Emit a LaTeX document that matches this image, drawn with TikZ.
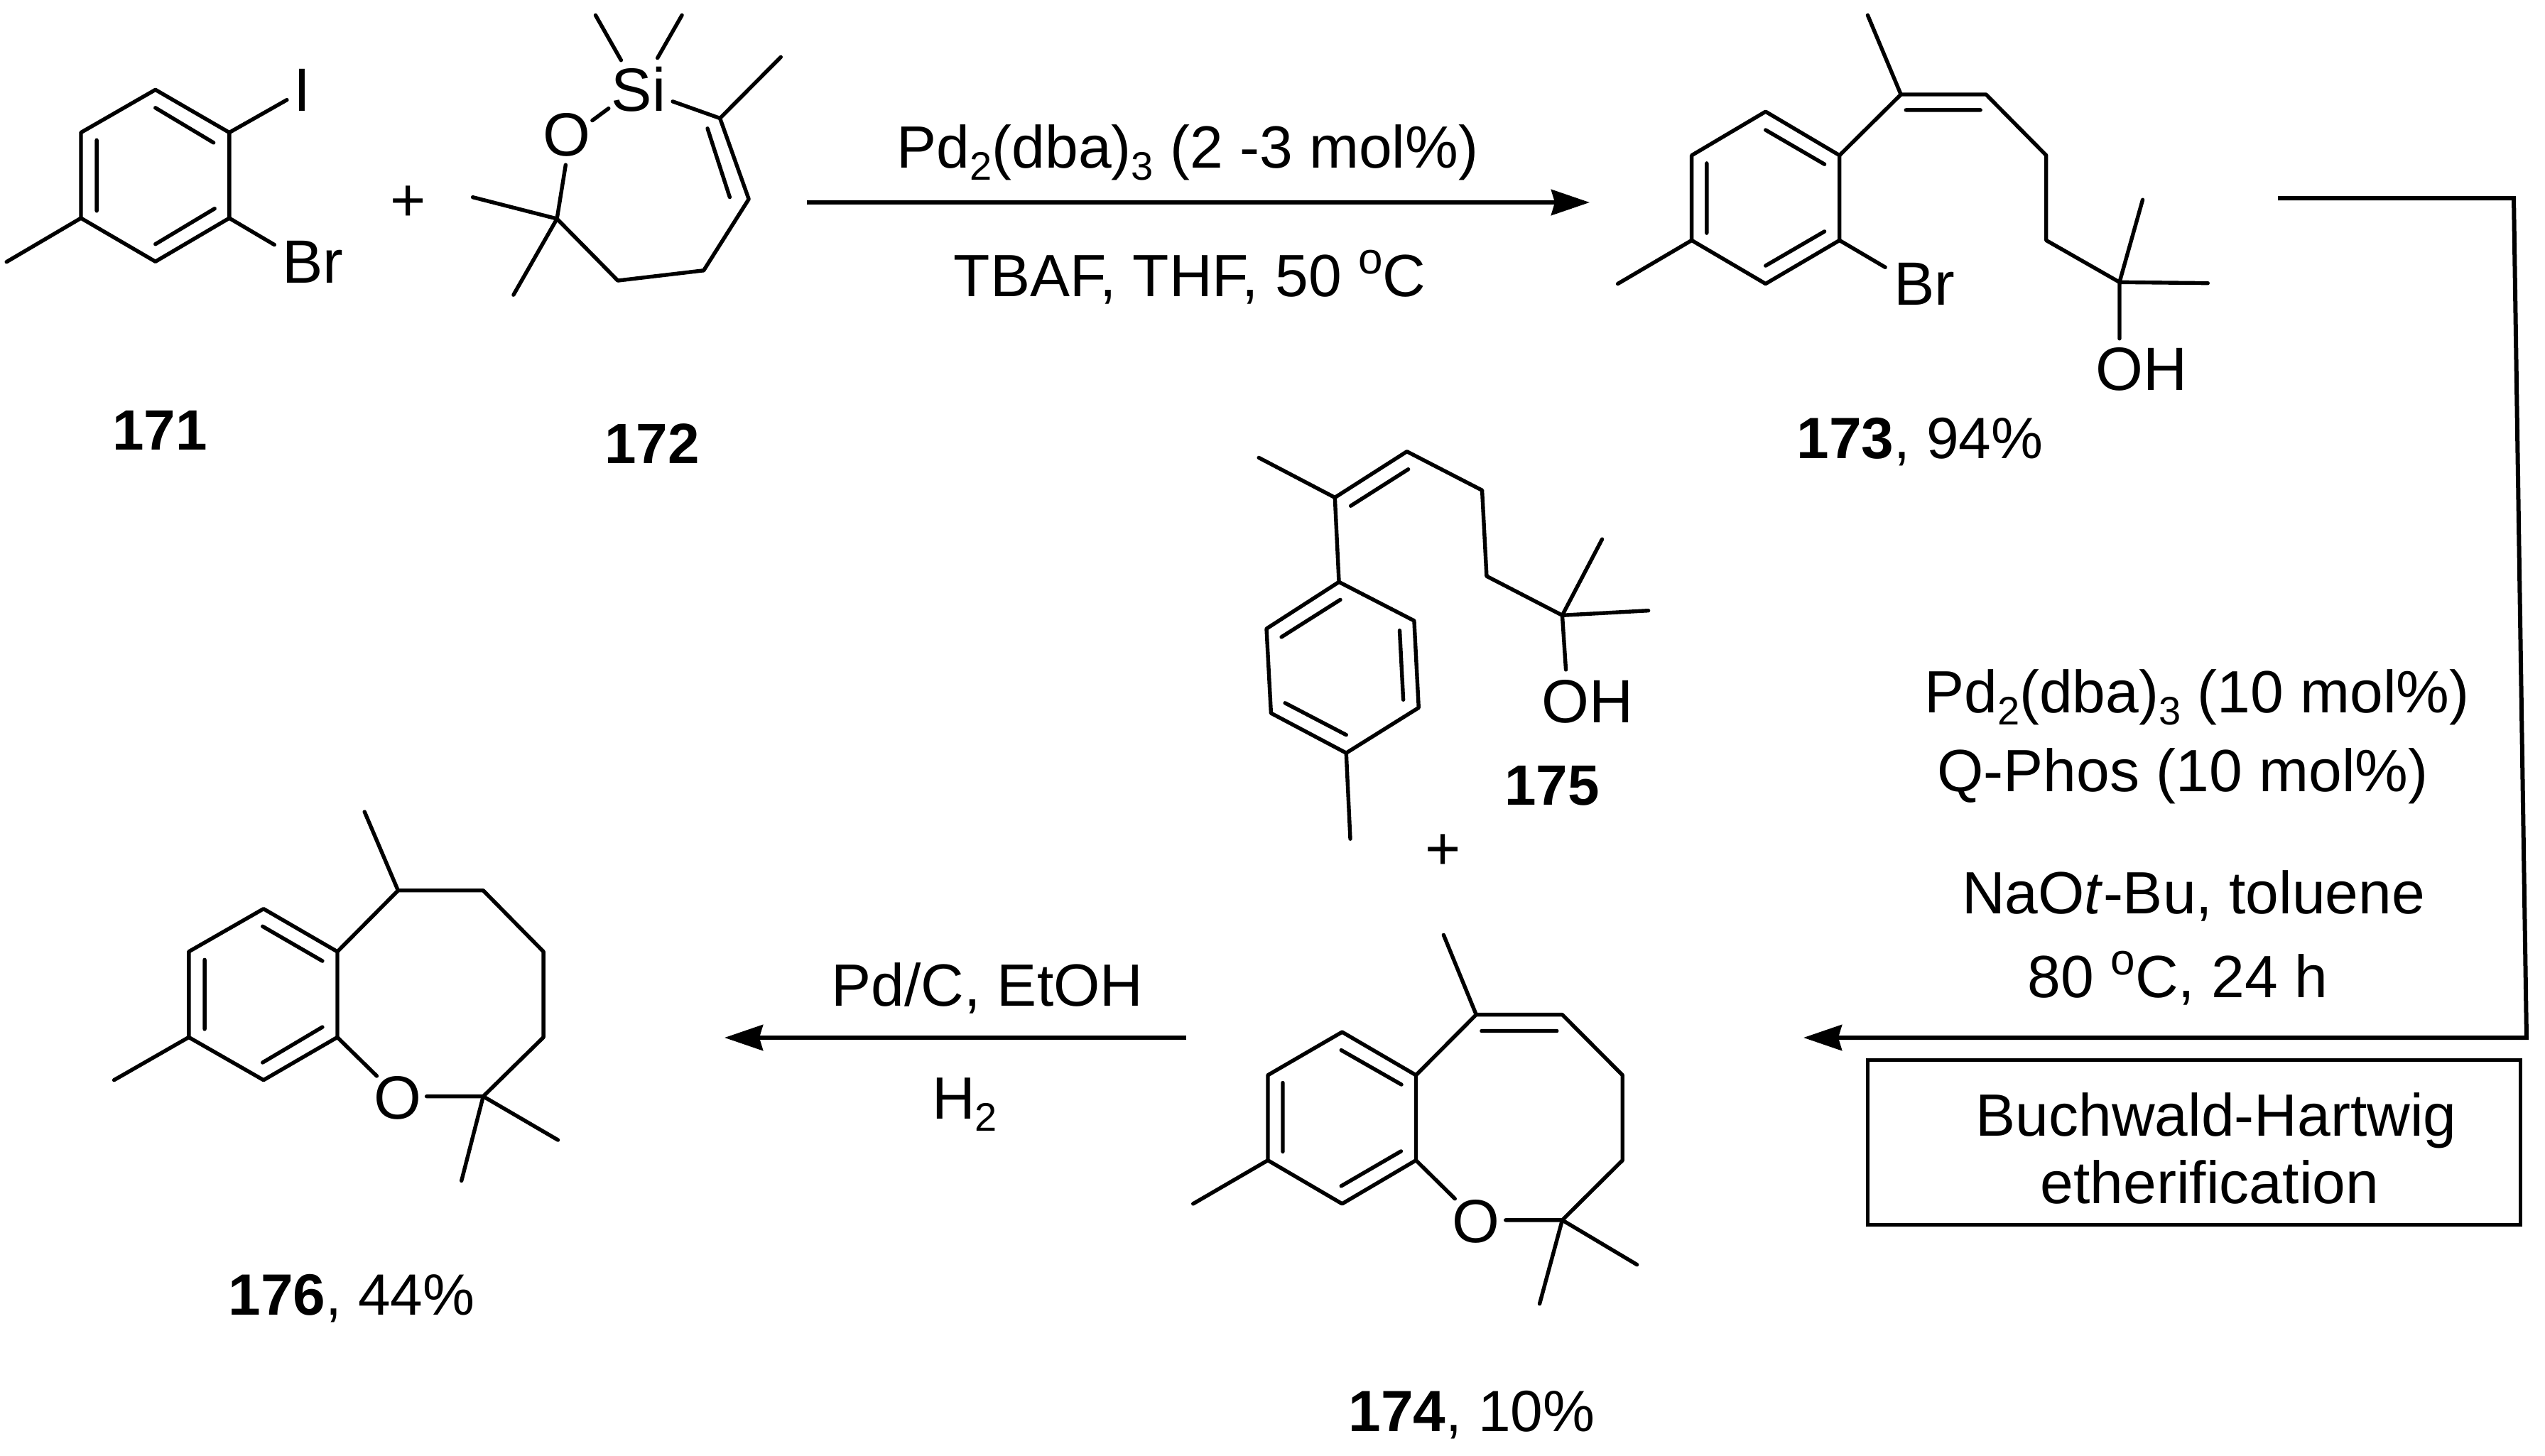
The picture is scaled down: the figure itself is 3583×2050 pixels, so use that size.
\documentclass[tikz,border=0pt]{standalone}
\usepackage{fontspec}
\setmainfont{Liberation Sans}
\usetikzlibrary{arrows.meta}
\newcommand\subsc[1]{\raisebox{-8.5pt}{\fontsize{28}{28}\selectfont #1}}
\newcommand\supsc[1]{\raisebox{16pt}{\fontsize{31}{31}\selectfont #1}}
\tikzset{
  bond/.style={draw=black,line width=2.7pt,line cap=round,line join=round},
  rxn/.style={draw=black,line width=3pt,line join=miter},
  head/.style={-{Stealth[length=27pt,width=18pt,inset=2.5pt]}},
  atom/.style={inner sep=0pt,anchor=base,font=\fontsize{43}{43}\selectfont},
  txt/.style={inner sep=0pt,anchor=base,font=\fontsize{42}{42}\selectfont},
  num/.style={inner sep=0pt,anchor=base,font=\fontsize{40}{40}\selectfont\bfseries},
  yield/.style={inner sep=0pt,anchor=base,font=\fontsize{41}{41}\selectfont},
}
\begin{document}
\begin{tikzpicture}[x=0.5pt,y=-0.5pt]
\useasboundingbox (0,0) rectangle (3583,2050);
% 171 and 172
\begin{scope}[shift={(0,0)},xscale=1/1.307,yscale=1/2.24]
\draw[bond] (286,283)--(422,418)--(422,688)--(286,825)--(149,688)--(149,418)--cycle;
\draw[bond] (286,340)--(393,450) (178,442)--(178,665) (395,658)--(286,770);
\draw[bond] (149,688)--(12,826) (422,418)--(528,315) (422,688)--(505,772);
\draw[bond] (1090,380)--(1120,342) (1143,190)--(1096,48) (1210,183)--(1255,48);
\draw[bond] (1238,320)--(1325,373)--(1437,180) (1325,373)--(1378,628)--(1295,853)--(1137,885)--(1025,690)--(1041,520);
\draw[bond] (1302,405)--(1343,622) (870,622)--(1025,690)--(945,930);
\end{scope}
% 173
\begin{scope}[shift={(2200,0)},xscale=1/1.134,yscale=1/2.24]
\draw[bond] (324,352)--(442,490)--(442,758)--(324,895)--(206,758)--(206,490)--cycle;
\draw[bond] (324,410)--(418,518) (230,515)--(230,735) (418,730)--(324,838);
\draw[bond] (206,758)--(88,895) (442,758)--(515,843);
\draw[bond] (442,490)--(540,298)--(676,298)--(772,490)--(772,758)--(889,890);
\draw[bond] (540,298)--(487,48) (548,347)--(667,347);
\draw[bond] (926,630)--(889,890)--(1030,893) (889,890)--(889,1068);
\end{scope}
% 175
\begin{scope}[shift={(1600,550)},xscale=1/1.568,yscale=1/1.96]
\draw[bond] (270,185)--(438,295)--(597,168)--(763,275)--(773,512)--(940,620);
\draw[bond] (473,318)--(600,217) (1028,410)--(940,620)--(1130,607) (940,620)--(948,770);
\draw[bond] (438,295)--(447,528);
\draw[bond] (447,528)--(613,635)--(623,875)--(463,1000)--(297,890)--(287,657)--cycle;
\draw[bond] (450,577)--(320,680) (581,662)--(589,853) (463,950)--(328,862) (463,1000)--(472,1237);
\end{scope}
% 176
\begin{scope}[shift={(100,1050)},xscale=1/1.568,yscale=1/1.742]
\draw[bond] (425,400)--(588,505)--(588,715)--(425,820)--(260,715)--(260,505)--cycle;
\draw[bond] (423,443)--(555,528) (295,525)--(295,695) (555,690)--(423,777) (260,715)--(95,820);
\draw[bond] (588,505)--(722,355)--(910,355)--(1043,505)--(1043,715)--(910,860)--(785,860);
\draw[bond] (722,355)--(648,162) (1075,967)--(910,860)--(862,1067) (588,715)--(675,810);
\end{scope}
% 174
\begin{scope}[shift={(1600,1250)},xscale=1/1.568,yscale=1/1.96]
\draw[bond] (454,398)--(617,517)--(617,752)--(454,872)--(290,752)--(290,517)--cycle;
\draw[bond] (452,448)--(585,543) (323,538)--(323,728) (584,727)--(452,823) (290,752)--(125,872);
\draw[bond] (617,517)--(750,350)--(940,350)--(1073,517)--(1073,752)--(940,917)--(815,917);
\draw[bond] (750,350)--(678,130) (762,395)--(928,395) (1105,1040)--(940,917)--(890,1148) (617,752)--(703,858);
\end{scope}
% atom labels
\node[atom] (iodo) at (425,156) {I};
\node[atom] (br171) at (440,398) {Br};
\node[atom] (o172) at (798,220) {O};
\node[atom] (si172) at (899,156) {Si};
\node[atom] (br173) at (2709,429) {Br};
\node[atom] (oh173) at (3015,549) {OH};
\node[atom] (oh175) at (2235,1017) {OH};
\node[atom] (o176) at (560,1575) {O};
\node[atom] (o174) at (2078,1749) {O};
% pluses
\node[atom] (plusa) at (575,311) {+};
\node[atom] (plusb) at (2032,1224) {+};
% compound numbers
\node[num] (n171) at (225,633) {171};
\node[num] (n172) at (918,652) {172};
\node[yield] (n173) at (2703,645) {\textbf{173}, 94\%};
\node[num] (n175) at (2185,1133) {175};
\node[yield] (n176) at (495,1851) {\textbf{176}, 44\%};
\node[yield] (n174) at (2072,2015) {\textbf{174}, 10\%};
% arrows
\coordinate (a1s) at (1136,285);
\coordinate (a1e) at (2238,285);
\draw[rxn,head] (a1s)--(a1e);
\node[txt] (t1) at (1672,236) {Pd\subsc{2}(dba)\subsc{3} (2 -3 mol\%)};
\node[txt] (t2) at (1675,417) {TBAF, THF, 50 \supsc{o}C};
\coordinate (e1) at (3207,279);
\coordinate (e2) at (3539,279);
\coordinate (e3) at (3557,1461);
\coordinate (e4) at (2539,1461);
\draw[rxn,head] (e1)--(e2)--(e3)--(e4);
\node[txt] (c1) at (3093,1003) {Pd\subsc{2}(dba)\subsc{3} (10 mol\%)};
\node[txt] (c2) at (3073,1114) {Q-Phos (10 mol\%)};
\node[txt] (c3) at (3088,1286) {NaO\textit{t}-Bu, toluene};
\node[txt] (c4) at (3066,1404) {80 \supsc{o}C, 24 h};
\node[draw=black,line width=2.5pt,minimum width=919pt*0.5,minimum height=232pt*0.5,inner sep=0pt] (box) at (3088.5,1608) {};
\node[txt] (b1) at (3120,1599) {Buchwald-Hartwig};
\node[txt] (b2) at (3111,1694) {etherification};
\coordinate (a3s) at (1670,1461);
\coordinate (a3e) at (1020,1461);
\draw[rxn,head] (a3s)--(a3e);
\node[txt] (p1) at (1390,1416) {Pd/C, EtOH};
\node[txt] (p2) at (1358,1575) {H\subsc{2}};
\end{tikzpicture}
\end{document}
